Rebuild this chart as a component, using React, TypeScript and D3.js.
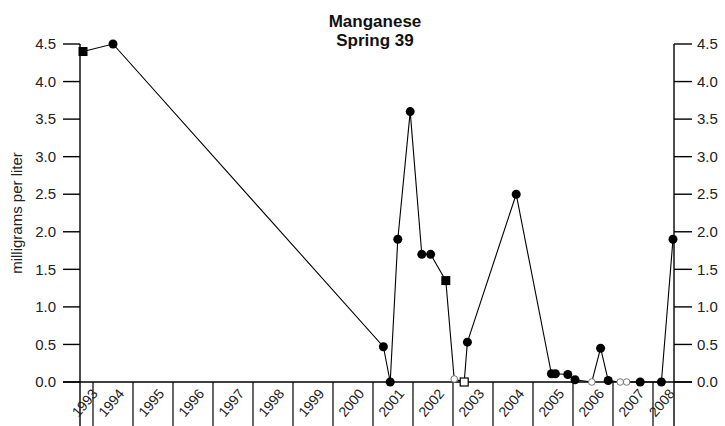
import React from "react";
import * as d3 from "d3";

// Sample dates as decimal years, Mn concentration (mg/L), marker type
const sampleYears = [
  1993.75, 1994.5, 2001.26, 2001.43, 2001.62, 2001.93, 2002.22, 2002.44, 2002.82,
  2003.03, 2003.28, 2003.36, 2004.58, 2005.46, 2005.56, 2005.87, 2006.05, 2006.47,
  2006.69, 2006.88, 2007.18, 2007.34, 2007.68, 2008.21, 2008.5,
];
const manganese = [
  4.4, 4.5, 0.47, 0.0, 1.9, 3.6, 1.7, 1.7, 1.35,
  0.04, 0.0, 0.53, 2.5, 0.11, 0.11, 0.1, 0.03, 0.0,
  0.45, 0.02, 0.0, 0.0, 0.0, 0.0, 1.9,
];
// fc = filled circle, fs = filled square, oc = open circle, os = open square
const markerTypes = [
  "fs", "fc", "fc", "fc", "fc", "fc", "fc", "fc", "fs",
  "oc", "os", "fc", "fc", "fc", "fc", "fc", "fc", "oc",
  "fc", "fc", "oc", "oc", "fc", "fc", "fc",
];
const yTicks = [0, 0.5, 1, 1.5, 2, 2.5, 3, 3.5, 4, 4.5];
const yearLabels = d3.range(1993, 2009);
const xDomain = [1993.675, 2008.525];
const yDomain = [0, 4.5];
const titleLines = ["Manganese", "Spring 39"];
const yAxisTitle = "milligrams per liter";

export default function App() {
  const W = 725, H = 426;
  const left = 80, right = 674, top = 44, bottom = 382;
  const x = d3.scaleLinear().domain(xDomain).range([left, right]);
  const y = d3.scaleLinear().domain(yDomain).range([bottom, top]);
  const font = "'Liberation Sans', Arial, sans-serif";
  const pts = sampleYears.map((t, i) => ({ t, v: manganese[i], m: markerTypes[i] }));
  const line = d3.line<any>().x((d) => x(d.t)).y((d) => y(d.v));
  const yearTicks = d3.range(1994, 2009);

  return (
    <svg width={W} height={H} style={{ position: "absolute", left: 0, top: 0, background: "#fff" }}>
      <g fontFamily={font}>
        {titleLines.map((t, i) => (
          <text key={t} x={375} y={27 + i * 19} textAnchor="middle" fontWeight="bold" fontSize={17} fill="#111">
            {t}
          </text>
        ))}
        <text transform={`translate(22,${(top + bottom) / 2}) rotate(-90)`} textAnchor="middle" fontSize={15} fill="#222">
          {yAxisTitle}
        </text>
        {/* axes */}
        <line x1={left} x2={left} y1={top} y2={H} stroke="#000" strokeWidth={1.4} />
        <line x1={right} x2={right} y1={top} y2={H} stroke="#000" strokeWidth={1.4} />
        <line x1={left - 17} x2={right + 18} y1={bottom} y2={bottom} stroke="#000" strokeWidth={1.4} />
        {yTicks.map((v) => (
          <g key={v}>
            <line x1={left - 17} x2={left} y1={y(v)} y2={y(v)} stroke="#000" strokeWidth={1.4} />
            <line x1={right} x2={right + 18} y1={y(v)} y2={y(v)} stroke="#000" strokeWidth={1.4} />
            <text x={left - 24} y={y(v)} dy="0.35em" textAnchor="end" fontSize={15} fill="#222">
              {v.toFixed(1)}
            </text>
            <text x={right + 23} y={y(v)} dy="0.35em" textAnchor="start" fontSize={15} fill="#222">
              {v.toFixed(1)}
            </text>
          </g>
        ))}
        {yearTicks.map((yr) => (
          <line key={yr} x1={x(yr)} x2={x(yr)} y1={bottom} y2={H} stroke="#000" strokeWidth={1.2} />
        ))}
        {yearLabels.map((yr) => {
          const a = Math.max(x(yr), left);
          const b = Math.min(x(yr + 1), right);
          const cx = (a + b) / 2 + 12;
          return (
            <text key={yr} transform={`translate(${cx},394) rotate(-50)`} textAnchor="end" fontSize={14} fill="#222">
              {yr}
            </text>
          );
        })}
        <path d={line(pts) || ""} fill="none" stroke="#000" strokeWidth={1.1} />
        {pts.map((p, i) => {
          const cx = x(p.t), cy = y(p.v);
          if (p.m === "fc") return <circle key={i} cx={cx} cy={cy} r={4.5} fill="#000" />;
          if (p.m === "fs") return <rect key={i} x={cx - 4.5} y={cy - 4.5} width={9} height={9} fill="#000" />;
          if (p.m === "oc") return <circle key={i} cx={cx} cy={cy} r={3.3} fill="#fff" stroke="#777" strokeWidth={1} />;
          return <rect key={i} x={cx - 4} y={cy - 4} width={8} height={8} fill="#fff" stroke="#000" strokeWidth={1.2} />;
        })}
      </g>
    </svg>
  );
}
